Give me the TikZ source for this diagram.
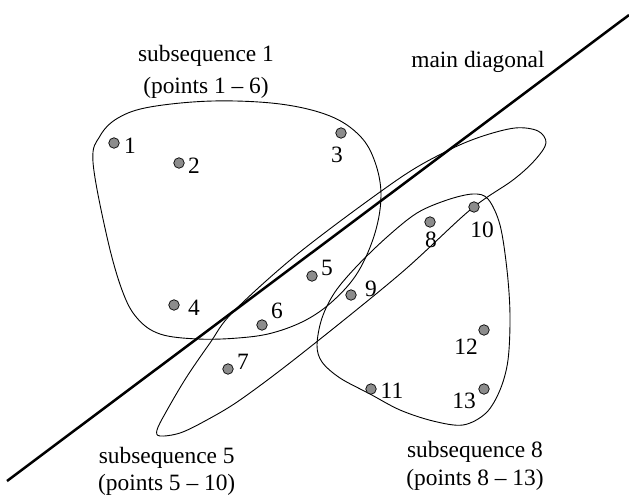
\documentclass[tikz,border=0pt]{standalone}
\usepackage{fontspec}
\setmainfont{Liberation Serif}
\tikzset{
  blob/.style={draw=black, line width=0.9pt},
  diag/.style={draw=black, line width=2.5pt},
  pt/.style={circle, draw=black, fill=black!45, line width=0.7pt, minimum size=10.5pt, inner sep=0pt},
  num/.style={inner sep=0pt, font=\fontsize{23.4}{28}\selectfont},
  lbl/.style={inner sep=0pt, anchor=base, font=\fontsize{23.4}{28}\selectfont}
}
\begin{document}
\begin{tikzpicture}[x=1pt, y=-1pt]
\useasboundingbox (0,0) rectangle (629,495);
% main diagonal
\coordinate (dA) at (7,481);
\coordinate (dB) at (629,15);
\draw[diag] (dA) -- (dB);
% subsequence 1 blob
\draw[blob] plot[smooth cycle, tension=0.6] coordinates {
  (93,162) (100,136) (118,118) (150,107) (213,101) (280,104) (330,116) (360,136)
  (375,162) (381,195) (375,233) (358,272) (334,300) (306,320) (272,333)
  (238,338) (198,339) (160,334) (137,318) (122,290) (107,237) };
% subsequence 5 blob
\draw[blob] plot[smooth cycle, tension=0.55] coordinates {
  (160,436) (180,433) (205,421) (240,400) (300,355) (400,274) (470,210) (513,180)
  (535,160) (546,143) (538,131) (515,128) (480,137) (445,152) (397,180)
  (300,252) (233,312) (210,343) (186,378) (166,412) (157,430) };
% subsequence 8 blob
\draw[blob] plot[smooth cycle, tension=0.55] coordinates {
  (317,345) (322,318) (335,292) (357,266) (387,237) (417,213) (447,200)
  (473,194) (488,199) (500,225) (507,270) (510,315) (508,360) (500,390)
  (486,413) (463,425) (433,421) (400,410) (370,394) (340,378) (322,362) };
% points
\node[pt] (p1) at (114,143) {};
\node[pt] (p2) at (179,163) {};
\node[pt] (p3) at (341,133) {};
\node[pt] (p4) at (174,305) {};
\node[pt] (p5) at (312,276) {};
\node[pt] (p6) at (262,325) {};
\node[pt] (p7) at (228,369) {};
\node[pt] (p8) at (430,222) {};
\node[pt] (p9) at (351,295) {};
\node[pt] (p10) at (474,207) {};
\node[pt] (p11) at (371,389) {};
\node[pt] (p12) at (484,330) {};
\node[pt] (p13) at (484,389) {};
% point labels
\node[num] (n1) at (130,146) {1};
\node[num] (n2) at (194,166) {2};
\node[num] (n3) at (337,155) {3};
\node[num] (n4) at (194,308) {4};
\node[num] (n5) at (327,268) {5};
\node[num] (n6) at (277,311) {6};
\node[num] (n7) at (243,362) {7};
\node[num] (n8) at (431,240) {8};
\node[num] (n9) at (371,289) {9};
\node[num] (n10) at (482,230) {10};
\node[num] (n11) at (392,391) {11};
\node[num] (n12) at (466,347) {12};
\node[num] (n13) at (464,401) {13};
% captions
\node[lbl] (s1a) at (206,61.7) {subsequence 1};
\node[lbl] (s1b) at (206,93.3) {(points 1 – 6)};
\node[lbl] (md) at (478,67.3) {main diagonal};
\node[lbl] (s5a) at (166.7,463.3) {subsequence 5};
\node[lbl] (s5b) at (166.7,490) {(points 5 – 10)};
\node[lbl] (s8a) at (475,457.3) {subsequence 8};
\node[lbl] (s8b) at (475,485) {(points 8 – 13)};
\end{tikzpicture}
\end{document}
